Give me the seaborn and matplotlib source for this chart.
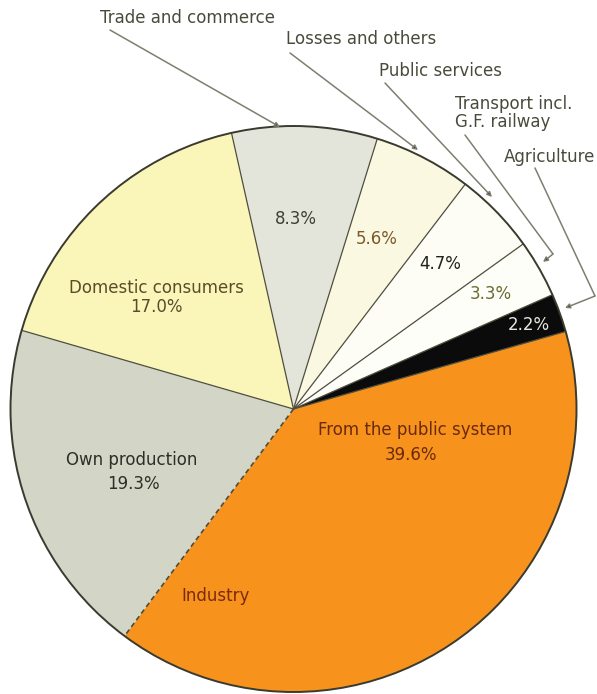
import matplotlib
matplotlib.use("Agg")
import matplotlib.pyplot as plt
import seaborn as sns
import numpy as np

# Electricity consumption by sector (share of total, %)
sectors = ["From the public system", "Own production", "Domestic consumers",
           "Trade and commerce", "Losses and others", "Public services",
           "Transport incl.\nG.F. railway", "Agriculture"]
shares = [39.6, 19.3, 17.0, 8.3, 5.6, 4.7, 3.3, 2.2]
share_labels = ["39.6%", "19.3%", "17.0%", "8.3%", "5.6%", "4.7%", "3.3%", "2.2%"]
group_label = "Industry"

sns.set_theme(style="white")
plt.rcParams["font.family"] = ["DejaVu Sans"]

colors = ["#F7921C", "#D3D5C7", "#FAF6BA", "#E3E5DB",
          "#FBF8E2", "#FDFDF5", "#FEFEF9", "#0B0B0B"]

W, H = 597, 694
fig = plt.figure(figsize=(W / 100, H / 100), dpi=100)
ax = fig.add_axes([0, 0, 1, 1])


def px(x, y):
    """Pixel position (origin top-left) to data coordinates."""
    return x, H - y


cx, cy = px(293.5, 409)
R = 283

wedges, _ = ax.pie(shares, colors=colors, startangle=15.9, counterclock=False,
                   center=(cx, cy), radius=R, wedgeprops=dict(linewidth=0))

edge_col = "#4E4E3E"
# radial boundaries between sectors
for i, w in enumerate(wedges):
    ang = np.deg2rad(w.theta2)
    xs = [cx, cx + R * np.cos(ang)]
    ys = [cy, cy + R * np.sin(ang)]
    if i == 1:
        # boundary shared by the two industry sectors
        ax.plot(xs, ys, color=edge_col, lw=1.2, ls=(0, (3, 2)), zorder=3)
    else:
        ax.plot(xs, ys, color=edge_col, lw=0.9, zorder=3)
ax.add_patch(plt.Circle((cx, cy), R, fill=False, ec="#3A3A2E", lw=1.4, zorder=4))

FS = 12
# in-slice labels: (text, centre in px, colour)
inner = [
    (sectors[0], (415, 430), "#6A2A0E"),
    (share_labels[0], (411, 455), "#6A2A0E"),
    (sectors[1], (132, 460), "#2E2E28"),
    (share_labels[1], (133, 484), "#2E2E28"),
    (sectors[2], (156, 288), "#5A4C2A"),
    (share_labels[2], (156, 307), "#5A4C2A"),
    (share_labels[3], (296, 219), "#3E3E34"),
    (share_labels[4], (377, 239), "#7A5A2A"),
    (share_labels[5], (440, 264), "#22221A"),
    (share_labels[6], (491, 294), "#6B6B32"),
    (share_labels[7], (529, 325), "#E8E8E0"),
    (group_label, (216, 596), "#7A2A10"),
]
for txt, (x, y), c in inner:
    ax.text(*px(x, y), txt, ha="center", va="center", color=c, fontsize=FS,
            zorder=5)

# outside labels with leader lines
out_col = "#4A4A3C"
line_col = "#7E7E70"
outer = [
    (sectors[3], (100, 18), [(110, 30), (280, 127)]),
    (sectors[4], (286, 39), [(290, 53), (418, 150)]),
    (sectors[5], (379, 71), [(385, 83), (492, 197)]),
    (sectors[6], (455, 113), [(465, 135), (553, 254), (543, 262)]),
    (sectors[7], (504, 157), [(535, 168), (595, 296), (565, 308)]),
]
for txt, (x, y), pts in outer:
    ax.text(*px(x, y), txt, ha="left", va="center", color=out_col,
            fontsize=FS, linespacing=1.0, zorder=5)
    P = [px(a, b) for a, b in pts]
    if len(P) > 2:
        ax.plot([p[0] for p in P[:-1]], [p[1] for p in P[:-1]],
                color=line_col, lw=1.1, zorder=5)
    ax.annotate("", xy=P[-1], xytext=P[-2],
                arrowprops=dict(arrowstyle="-|>", mutation_scale=7,
                                color=line_col, lw=1.1, shrinkA=0, shrinkB=0,
                                fc="#222218", ec=line_col),
                zorder=6)

ax.set_xlim(0, W)
ax.set_ylim(0, H)
ax.set_aspect("equal")
ax.axis("off")
fig.savefig("out.png", dpi=100, facecolor="white")
